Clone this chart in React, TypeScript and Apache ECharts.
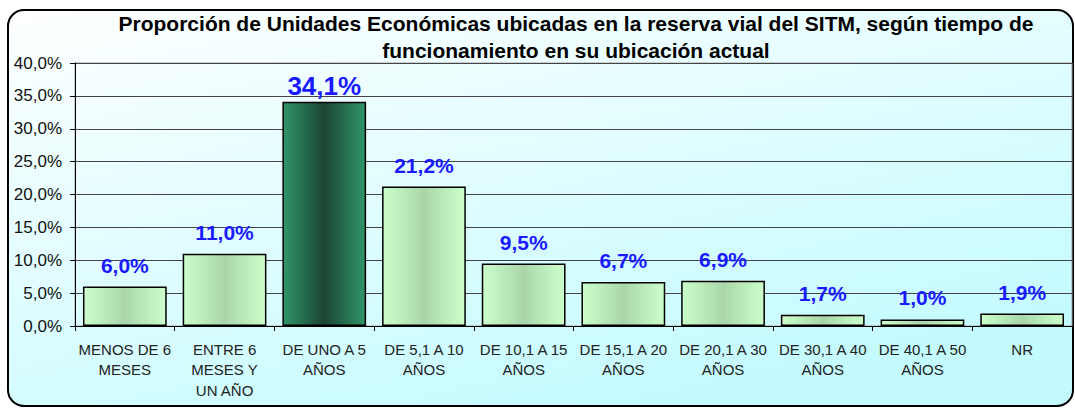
import React, { useEffect, useRef } from "react";
import * as echarts from "echarts";

const categories: string[] = [
  "MENOS DE 6\nMESES",
  "ENTRE 6\nMESES Y\nUN AÑO",
  "DE UNO A 5\nAÑOS",
  "DE 5,1 A 10\nAÑOS",
  "DE 10,1 A 15\nAÑOS",
  "DE 15,1 A 20\nAÑOS",
  "DE 20,1 A 30\nAÑOS",
  "DE 30,1 A 40\nAÑOS",
  "DE 40,1 A 50\nAÑOS",
  "NR",
];
const values: number[] = [6.0, 11.0, 34.1, 21.2, 9.5, 6.7, 6.9, 1.7, 1.0, 1.9];
const highlightIndex = 2;
const titleLines: string[] = [
  "Proporción de Unidades Económicas ubicadas en la reserva vial del SITM, según tiempo de",
  "funcionamiento en su ubicación actual",
];

const fmt = (v: number) => v.toFixed(1).replace(".", ",") + "%";

export default function App() {
  const ref = useRef<HTMLDivElement>(null);
  useEffect(() => {
    if (!ref.current) return;
    const chart = echarts.init(ref.current, null, { renderer: "svg" });
    const lightGrad = new echarts.graphic.LinearGradient(0, 0, 1, 0, [
      { offset: 0, color: "#ccffcc" },
      { offset: 0.5, color: "#a9d6a9" },
      { offset: 1, color: "#ccffcc" },
    ]);
    const darkGrad = new echarts.graphic.LinearGradient(0, 0, 1, 0, [
      { offset: 0, color: "#31956a" },
      { offset: 0.5, color: "#1a4532" },
      { offset: 1, color: "#31956a" },
    ]);
    const data = values.map((v, i) => ({
      value: v,
      itemStyle: { color: i === highlightIndex ? darkGrad : lightGrad },
      label:
        i === highlightIndex
          ? { fontSize: 26, distance: 3 }
          : { fontSize: 21, distance: 11 },
    }));
    chart.setOption({
      animation: false,
      backgroundColor: "#ffffff",
      textStyle: { fontFamily: "Liberation Sans, Arial, sans-serif" },
      graphic: [
        {
          type: "rect",
          z: -1,
          silent: true,
          shape: { x: 8, y: 10, width: 1065, height: 396, r: 16 },
          style: {
            fill: new echarts.graphic.LinearGradient(0, 0, 0.6, 1, [
              { offset: 0, color: "#ffffff" },
              { offset: 1, color: "#c4fbff" },
            ]),
            stroke: "#000000",
            lineWidth: 2,
          },
        },
        {
          type: "text",
          z: 5,
          style: {
            text: titleLines.join("\n"),
            x: 576,
            y: 10,
            textAlign: "center",
            textVerticalAlign: "top",
            font: "bold 21px 'Liberation Sans', Arial, sans-serif",
            lineHeight: 27,
            fill: "#000000",
          },
        },
      ],
      grid: {
        left: 75,
        right: 3,
        top: 63,
        bottom: 83,
        show: true,
        backgroundColor: "transparent",
        borderColor: "#a0a0a0",
        borderWidth: 1,
      },
      xAxis: {
        type: "category",
        data: categories,
        axisLine: { show: true, lineStyle: { color: "#000", width: 1 } },
        axisTick: { show: true, length: 5, lineStyle: { color: "#000" } },
        axisLabel: {
          interval: 0,
          color: "#222",
          fontSize: 15,
          lineHeight: 20.5,
          margin: 13,
        },
      },
      yAxis: {
        type: "value",
        min: 0,
        max: 40,
        interval: 5,
        axisLine: { show: true, lineStyle: { color: "#000", width: 1 } },
        axisTick: { show: true, length: 5, lineStyle: { color: "#000" } },
        axisLabel: {
          color: "#111",
          fontSize: 17,
          margin: 13,
          formatter: (v: number) => fmt(v),
        },
        splitLine: { show: true, lineStyle: { color: "#444", width: 1 } },
      },
      series: [
        {
          type: "bar",
          data,
          barCategoryGap: "16%",
          itemStyle: { borderColor: "#000", borderWidth: 1.5 },
          label: {
            show: true,
            position: "top",
            color: "#1a1aff",
            fontWeight: "bold",
            formatter: (p: any) => fmt(p.value),
          },
        },
      ],
    });
    return () => chart.dispose();
  }, []);
  return (
    <div
      ref={ref}
      style={{ position: "absolute", left: 0, top: 0, width: 1075, height: 409 }}
    />
  );
}
